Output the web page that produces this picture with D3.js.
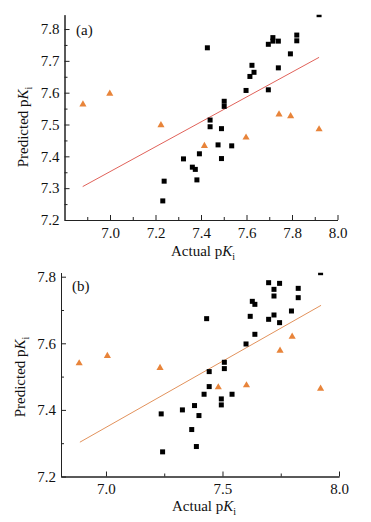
<!DOCTYPE html>
<html>
<head>
<meta charset="utf-8">
<script src="https://cdn.jsdelivr.net/npm/d3@7"></script>
<style>
  body { margin: 0; background: #fff; }
  svg { display: block; font-family: "Liberation Serif", "Times New Roman", serif; }
</style>
</head>
<body>
<div id="chart-container"></div>
<script>
// =====================
// Data
// =====================
// Panel (a): black squares
const A_SQ_X = [7.428, 7.696, 7.716, 7.716, 7.740, 7.821, 7.821, 7.793, 7.740, 7.624,
                7.633, 7.615, 7.598, 7.696, 7.502, 7.502, 7.919, 7.440, 7.440, 7.490,
                7.475, 7.490, 7.535, 7.393, 7.323, 7.362, 7.375, 7.382, 7.238, 7.232];
const A_SQ_Y = [7.741, 7.752, 7.773, 7.762, 7.762, 7.781, 7.763, 7.722, 7.678, 7.686,
                7.664, 7.651, 7.607, 7.609, 7.573, 7.557, 7.845, 7.514, 7.493, 7.487,
                7.436, 7.393, 7.433, 7.408, 7.392, 7.366, 7.359, 7.326, 7.322, 7.260];
// Panel (a): orange triangles
const A_TRI_X = [6.881, 6.999, 7.224, 7.415, 7.598, 7.743, 7.794, 7.919];
const A_TRI_Y = [7.563, 7.597, 7.498, 7.433, 7.459, 7.532, 7.526, 7.485];
// Panel (a): fitted line
const A_FIT_X = [6.880, 7.919];
const A_FIT_Y = [7.305, 7.711];

// Panel (b): black squares
const B_SQ_X = [7.432, 7.698, 7.721, 7.745, 7.721, 7.825, 7.825, 7.796, 7.628, 7.639,
                7.619, 7.721, 7.698, 7.745, 7.639, 7.601, 7.508, 7.508, 7.443, 7.921,
                7.443, 7.421, 7.495, 7.495, 7.541, 7.380, 7.399, 7.328, 7.237, 7.368,
                7.388, 7.243];
const B_SQ_Y = [7.674, 7.782, 7.762, 7.780, 7.742, 7.765, 7.737, 7.697, 7.726, 7.717,
                7.681, 7.685, 7.672, 7.662, 7.627, 7.598, 7.543, 7.524, 7.515, 7.812,
                7.470, 7.447, 7.433, 7.415, 7.447, 7.413, 7.383, 7.400, 7.388, 7.341,
                7.290, 7.274];
// Panel (b): orange triangles
const B_TRI_X = [6.885, 7.006, 7.232, 7.799, 7.747, 7.482, 7.603, 7.921];
const B_TRI_Y = [7.540, 7.562, 7.526, 7.620, 7.578, 7.468, 7.474, 7.464];
// Panel (b): fitted line
const B_FIT_X = [6.888, 7.923];
const B_FIT_Y = [7.303, 7.714];

// Ticks
const A_X_MAJOR = [7.0, 7.2, 7.4, 7.6, 7.8, 8.0];
const A_X_MINOR = [6.9, 7.1, 7.3, 7.5, 7.7, 7.9];
const A_Y_MAJOR = [7.2, 7.3, 7.4, 7.5, 7.6, 7.7, 7.8];
const A_Y_MINOR = [7.25, 7.35, 7.45, 7.55, 7.65, 7.75];
const B_X_MAJOR = [7.0, 7.5, 8.0];
const B_X_MINOR = [7.25, 7.75];
const B_Y_MAJOR = [7.2, 7.4, 7.6, 7.8];
const B_Y_MINOR = [7.3, 7.5, 7.7];

const X_LABEL = "Actual pK";
const Y_LABEL = "Predicted pK";

// =====================
// SVG setup
// =====================
const svgWidth = 371;
const svgHeight = 522;

const svg = d3.select("#chart-container").append("svg")
  .attr("width", svgWidth)
  .attr("height", svgHeight);

function drawPanel(cfg) {
  const x = d3.scaleLinear().domain(cfg.xDomain).range(cfg.xRange);
  const y = d3.scaleLinear().domain(cfg.yDomain).range(cfg.yRange);

  const clipId = "clip-" + cfg.tag;
  svg.append("clipPath").attr("id", clipId)
    .append("rect")
    .attr("x", cfg.xRange[0])
    .attr("y", cfg.yRange[1])
    .attr("width", cfg.xRange[1] - cfg.xRange[0])
    .attr("height", cfg.yRange[0] - cfg.yRange[1]);

  const plot = svg.append("g").attr("clip-path", `url(#${clipId})`);

  // fitted line
  plot.append("line")
    .attr("x1", x(cfg.fitX[0])).attr("y1", y(cfg.fitY[0]))
    .attr("x2", x(cfg.fitX[1])).attr("y2", y(cfg.fitY[1]))
    .attr("stroke", cfg.lineColor)
    .attr("stroke-width", 1);

  // squares
  const sq = 5;
  plot.selectAll("rect.sq")
    .data(d3.zip(cfg.sqX, cfg.sqY))
    .join("rect")
    .attr("class", "sq")
    .attr("x", d => x(d[0]) - sq / 2)
    .attr("y", d => y(d[1]) - sq / 2)
    .attr("width", sq)
    .attr("height", sq)
    .attr("fill", "#000");

  // triangles
  const tri = d3.symbol().type(d3.symbolTriangle).size(22);
  plot.selectAll("path.tri")
    .data(d3.zip(cfg.triX, cfg.triY))
    .join("path")
    .attr("class", "tri")
    .attr("d", tri)
    .attr("transform", d => `translate(${x(d[0])},${y(d[1])})`)
    .attr("fill", "#e8843a");

  // axes (ticks point inward)
  const styleAxis = g => {
    g.select(".domain").attr("stroke", "#222");
    g.selectAll(".tick line").attr("stroke", "#222");
    g.selectAll(".tick text")
      .attr("fill", "#111")
      .attr("font-size", 15)
      .attr("font-family", "'Liberation Serif', 'Times New Roman', serif");
  };

  svg.append("g")
    .attr("transform", `translate(0,${cfg.yRange[0]})`)
    .call(d3.axisBottom(x).tickValues(cfg.xMinor).tickFormat("").tickSize(-3).tickSizeOuter(0))
    .call(styleAxis);
  svg.append("g")
    .attr("transform", `translate(0,${cfg.yRange[0]})`)
    .call(d3.axisBottom(x).tickValues(cfg.xMajor).tickFormat(d3.format(".1f"))
      .tickSize(-5).tickSizeOuter(0).tickPadding(7))
    .call(styleAxis);

  svg.append("g")
    .attr("transform", `translate(${cfg.xRange[0]},0)`)
    .call(d3.axisLeft(y).tickValues(cfg.yMinor).tickFormat("").tickSize(-3).tickSizeOuter(0))
    .call(styleAxis);
  svg.append("g")
    .attr("transform", `translate(${cfg.xRange[0]},0)`)
    .call(d3.axisLeft(y).tickValues(cfg.yMajor).tickFormat(d3.format(".1f"))
      .tickSize(-5).tickSizeOuter(0).tickPadding(5))
    .call(styleAxis);

  // panel tag
  svg.append("text")
    .attr("x", cfg.tagX)
    .attr("y", cfg.tagY)
    .attr("font-size", 15)
    .attr("fill", "#111")
    .text(`(${cfg.tag})`);

  // x title
  const xt = svg.append("text")
    .attr("x", cfg.xTitleX)
    .attr("y", cfg.xTitleY)
    .attr("text-anchor", "middle")
    .attr("font-size", 15)
    .attr("fill", "#111");
  xt.append("tspan").text("Actual p");
  xt.append("tspan").attr("font-style", "italic").text("K");
  xt.append("tspan").attr("font-size", 10).attr("dy", 4).text("i");

  // y title
  const yt = svg.append("text")
    .attr("transform", `translate(${cfg.yTitleX},${cfg.yTitleY}) rotate(-90)`)
    .attr("text-anchor", "middle")
    .attr("font-size", 15)
    .attr("fill", "#111");
  yt.append("tspan").text("Predicted p");
  yt.append("tspan").attr("font-style", "italic").text("K");
  yt.append("tspan").attr("font-size", 10).attr("dy", 4).text("i");
}

drawPanel({
  tag: "a",
  xDomain: [6.8, 8.0], xRange: [64.5, 337.5],
  yDomain: [7.2, 7.845], yRange: [220, 14.7],
  sqX: A_SQ_X, sqY: A_SQ_Y, triX: A_TRI_X, triY: A_TRI_Y,
  fitX: A_FIT_X, fitY: A_FIT_Y, lineColor: "#e0625a",
  xMajor: A_X_MAJOR, xMinor: A_X_MINOR, yMajor: A_Y_MAJOR, yMinor: A_Y_MINOR,
  tagX: 76, tagY: 35,
  xTitleX: 203, xTitleY: 256,
  yTitleX: 28, yTitleY: 127
});

drawPanel({
  tag: "b",
  xDomain: [6.807, 8.0], xRange: [61, 339],
  yDomain: [7.2, 7.812], yRange: [476.5, 272.7],
  sqX: B_SQ_X, sqY: B_SQ_Y, triX: B_TRI_X, triY: B_TRI_Y,
  fitX: B_FIT_X, fitY: B_FIT_Y, lineColor: "#e2925c",
  xMajor: B_X_MAJOR, xMinor: B_X_MINOR, yMajor: B_Y_MAJOR, yMinor: B_Y_MINOR,
  tagX: 72, tagY: 291,
  xTitleX: 204, xTitleY: 511,
  yTitleX: 25, yTitleY: 377
});
</script>
</body>
</html>
